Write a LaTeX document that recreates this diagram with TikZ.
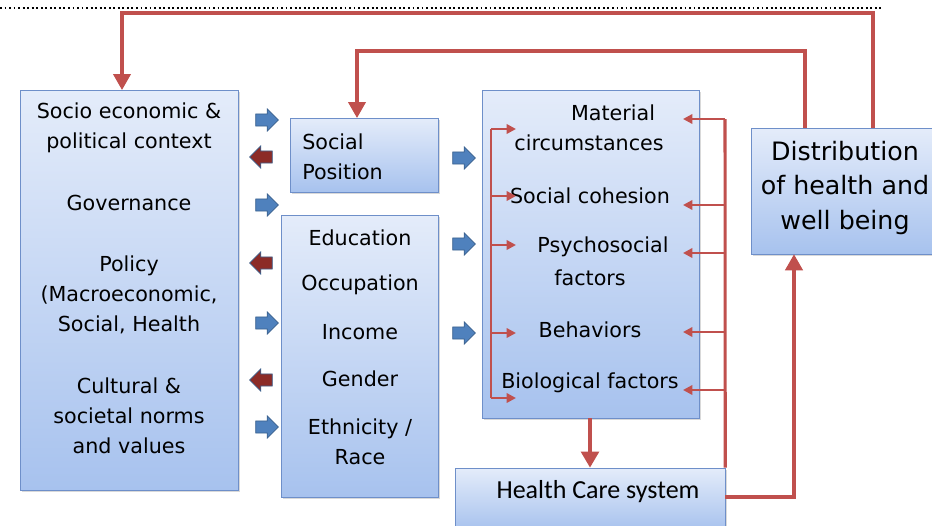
\documentclass[tikz,border=0pt]{standalone}
\usepackage{fontspec}
\setmainfont{DejaVu Sans}
\newfontfamily\calfont{Carlito}
\usetikzlibrary{arrows.meta,shapes.arrows,shadows,fit}
\definecolor{boxline}{HTML}{6E8FC9}
\definecolor{boxtop}{HTML}{E4ECFA}
\definecolor{boxbot}{HTML}{A7C2EE}
\definecolor{linered}{HTML}{C0504D}
\definecolor{arrblue}{HTML}{4F81BD}
\definecolor{arrdark}{HTML}{8C2B27}

\begin{document}
\begin{tikzpicture}[x=0.75pt,y=-0.75pt]

    \tikzset{
      box/.style={
        draw=boxline,
        top color=boxtop,
        bottom color=boxbot,
        inner sep=0pt,
        drop shadow={shadow xshift=1.2pt,shadow yshift=-1.2pt,opacity=0.3},
      },
      txt/.style={font=\fontsize{15.5}{22.5}\selectfont, inner sep=0pt, align=center},
      redline/.style={draw=linered, line width=2.3pt},
      thinred/.style={draw=linered, line width=1.8pt},
      redarr/.style={redline, -{Triangle[width=13pt,length=12pt]}},
      smallarr/.style={thinred, -{Triangle[width=7pt,length=7pt]}},
      barr/.style={
        single arrow,
        draw=arrblue!75!black,
        fill=arrblue,
        line width=0.5pt,
        inner sep=4.3pt,
        minimum height=17pt,
        single arrow head extend=3.8pt,
      },
    }
    \useasboundingbox (0,0) rectangle (932,525);
	\draw[dotted, line width=1.4pt] (0,8)--(881,8);

	% boxes
	\node[box, fit={(20,90) (238,490)}] (ctx) {};
	\node[box, fit={(290,118) (438,192)}] (pos) {};
	\node[box, fit={(281,215) (438,497)}] (strat) {};
	\node[box, fit={(482,90) (699,418)}] (mech) {};
	\node[box, fit={(455,468) (725,530)}] (hcs) {};
	\node[box, fit={(751,128) (940,254)}] (dist) {};

	% texts
	\node[txt] (ctx1) at (129,128) {Socio economic \&\\political context};
	\node[txt] (ctx2) at (129,203) {Governance};
	\node[txt] (ctx3) at (129,295) {Policy\\(Macroeconomic,\\Social, Health};
	\node[txt] (ctx4) at (129,416) {Cultural \&\\societal norms\\and values};
	\node[txt, align=left, anchor=west] (pos1) at (302,157) {Social\\Position};
	\node[txt] (edu) at (360,238) {Education};
	\node[txt] (occ) at (360,285) {Occupation};
	\node[txt] (inc) at (360,332) {Income};
	\node[txt] (gen) at (360,379) {Gender};
	\node[txt] (eth) at (360,442) {Ethnicity /\\Race};
	\node[txt] (mat1) at (613,113) {Material};
	\node[txt] (mat2) at (589,143) {circumstances};
	\node[txt] (coh) at (590,196) {Social cohesion};
	\node[txt] (psy1) at (603,247) {Psychosocial};
	\node[txt] (psy2) at (590,278) {factors};
	\node[txt] (beh) at (590,330) {Behaviors};
	\node[txt] (bio) at (590,383) {Biological factors};
	\node[txt, font=\calfont\fontsize{19.5}{22}\selectfont] (hcs1) at (598,492) {Health Care system};
	\node[txt, font=\fontsize{19}{26}\selectfont] (dist1) at (845,188) {Distribution\\of health and\\well being};

	% block arrows
	\foreach \yy in {120,205,323,427}
	  \node[barr] (ra\yy) at (264,\yy) {};
	\foreach \yy in {157,263,380}
	  \node[barr, fill=arrdark, shape border rotate=180] (la\yy) at (264,\yy) {};
	\foreach \yy in {158,244,333}
	  \node[barr] (ma\yy) at (461,\yy) {};

	% feedback loops
	\coordinate (t1) at (873,13);
	\coordinate (t2) at (805,51);
	\draw[redarr] (dist.north -| t1) -- (t1) -- (122,13) -- (122,90);
	\draw[redarr] (dist.north -| t2) -- (t2) -- (357,51) -- (357,118);
	\draw[redarr, line width=3pt] (mech.south -| 590,0) -- (hcs.north -| 590,0);
	\draw[redarr] (725,497) -- (794,497) -- (dist.south -| 794,0);

	\draw[redline] (hcs.north east) -- (725,119);
	\foreach \yy in {119,205,253,332,390}
	  \draw[smallarr, line width=2.1pt] (725,\yy) -- (683,\yy);
	\draw[thinred] (491,129) -- (491,398);
	\foreach \yy in {129,196,245,333,398}
	  \draw[smallarr] (491,\yy) -- (516,\yy);

\end{tikzpicture}
\end{document}
